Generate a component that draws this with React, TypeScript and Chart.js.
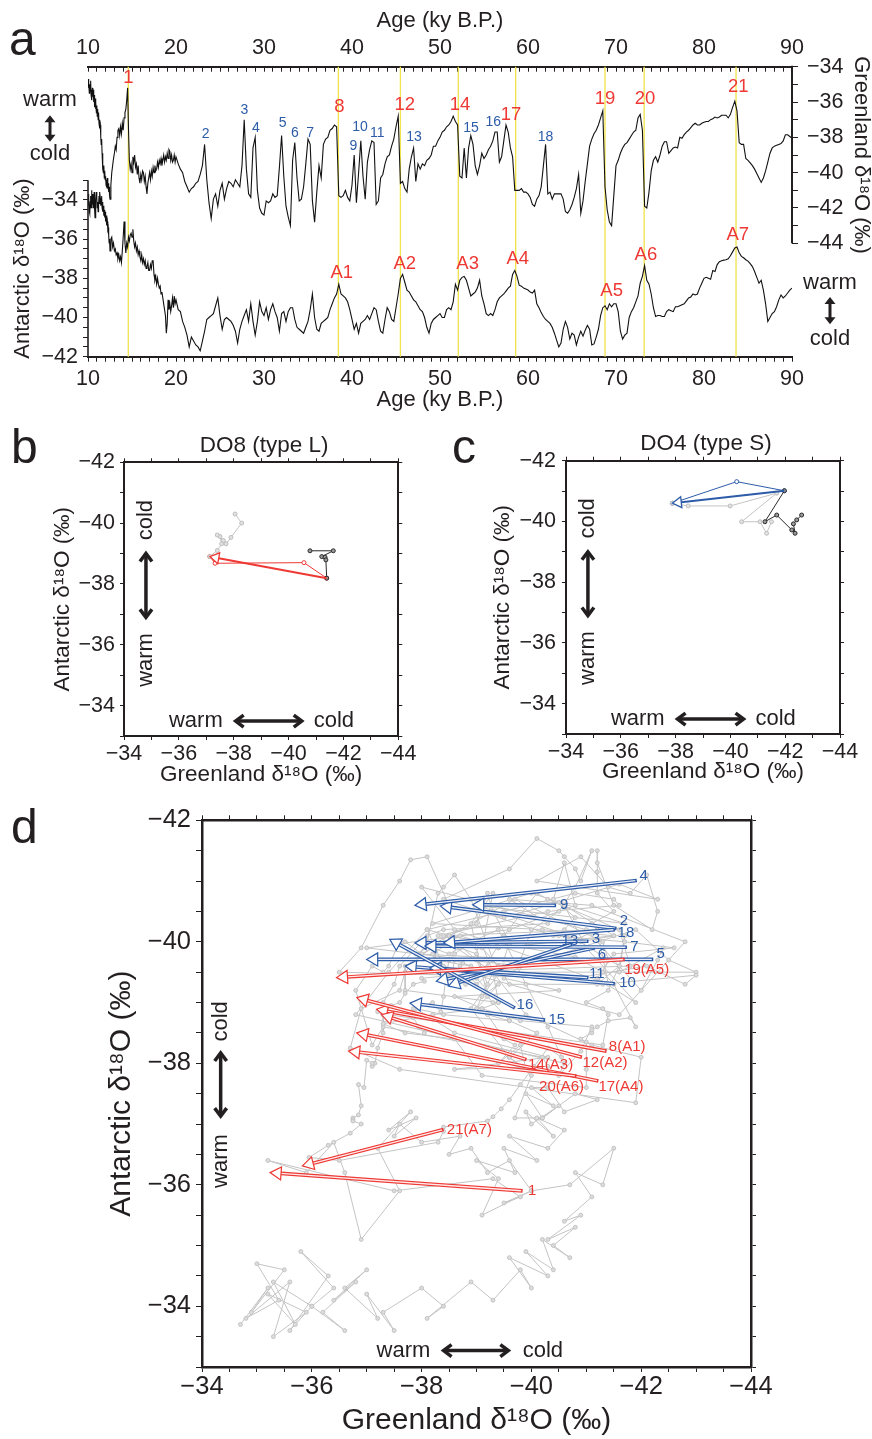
import React, { useEffect, useRef } from "react";
import { Chart, registerables } from "chart.js";

Chart.register(...registerables);

const FONT = "'Liberation Sans', Arial, Helvetica, sans-serif";
const INK = "#231f20";
const RED = "#ee3833";
const BLUE = "#2c5ba8";
const GREY = "#c4c4c4";
const YELLOW = "#f1e34a";

// ---------------- Panel a : records on a common age grid (ky B.P.) ----------------
const ages = [
  10,10.05,10.1,10.15,10.2,10.25,10.3,10.35,10.4,10.45,10.5,10.55,10.6,10.65,10.7,10.75,10.8,10.85,10.9,10.95,
  11,11.05,11.1,11.15,11.2,11.25,11.3,11.35,11.4,11.45,11.5,11.55,11.6,11.65,11.7,11.75,11.8,11.85,11.9,11.95,
  12,12.05,12.1,12.15,12.2,12.25,12.3,12.35,12.4,12.45,
  12.5,12.6,12.7,12.8,12.9,13,13.1,13.2,13.3,13.4,13.5,13.6,13.7,13.8,13.9,14,14.1,14.2,14.3,14.4,
  14.5,14.6,14.7,14.8,14.9,15,15.1,15.2,15.3,15.4,15.5,15.6,15.7,15.8,15.9,16,16.1,16.2,16.3,16.4,
  16.5,16.6,16.7,16.8,16.9,17,17.1,17.2,17.3,17.4,17.5,17.6,17.7,17.8,17.9,18,18.1,18.2,18.3,18.4,
  18.5,18.6,18.7,18.8,18.9,19,19.1,19.2,19.3,19.4,19.5,19.6,19.7,19.8,19.9,
  20,20.25,20.5,20.75,21,21.25,21.5,21.75,22,22.25,22.5,22.75,23,23.25,23.5,23.75,24,24.25,24.5,24.75,
  25,25.25,25.5,25.75,26,26.25,26.5,26.75,27,27.25,27.5,27.75,28,28.25,28.5,28.75,29,29.25,29.5,29.75,
  30,30.25,30.5,30.75,31,31.25,31.5,31.75,32,32.25,32.5,32.75,33,33.25,33.5,33.75,34,34.25,34.5,34.75,
  35,35.25,35.5,35.75,36,36.25,36.5,36.75,37,37.25,37.5,37.75,38,38.25,38.5,38.75,39,39.25,39.5,39.75,
  40,40.25,40.5,40.75,41,41.25,41.5,41.75,42,42.25,42.5,42.75,43,43.25,43.5,43.75,44,44.25,44.5,44.75,
  45,45.25,45.5,45.75,46,46.25,46.5,46.75,47,47.25,47.5,47.75,48,48.25,48.5,48.75,49,49.25,49.5,49.75,
  50,50.25,50.5,50.75,51,51.25,51.5,51.75,52,52.25,52.5,52.75,53,53.25,53.5,53.75,54,54.25,54.5,54.75,
  55,55.25,55.5,55.75,56,56.25,56.5,56.75,57,57.25,57.5,57.75,58,58.25,58.5,58.75,59,59.25,59.5,59.75,
  60,60.25,60.5,60.75,61,61.25,61.5,61.75,62,62.25,62.5,62.75,63,63.25,63.5,63.75,64,64.25,64.5,64.75,
  65,65.25,65.5,65.75,66,66.25,66.5,66.75,67,67.25,67.5,67.75,68,68.25,68.5,68.75,69,69.25,69.5,69.75,
  70,70.25,70.5,70.75,71,71.25,71.5,71.75,72,72.25,72.5,72.75,73,73.25,73.5,73.75,74,74.25,74.5,74.75,
  75,75.25,75.5,75.75,76,76.25,76.5,76.75,77,77.25,77.5,77.75,78,78.25,78.5,78.75,79,79.25,79.5,79.75,
  80,80.25,80.5,80.75,81,81.25,81.5,81.75,82,82.25,82.5,82.75,83,83.25,83.5,83.75,84,84.25,84.5,84.75,
  85,85.25,85.5,85.75,86,86.25,86.5,86.75,87,87.25,87.5,87.75,88,88.25,88.5,88.75,89,89.25,89.5,89.75,
  90,
];

const greenland = [
  -34.7,-35.2,-34.9,-35.5,-35.0,-35.4,-34.8,-35.6,-35.3,-35.9,-35.2,-35.7,-35.3,-36.0,-35.6,-36.3,-35.8,-36.4,-36.0,-36.6,
  -36.2,-36.8,-36.4,-37.0,-36.6,-37.2,-37.0,-37.5,-37.3,-38.0,-38.4,-38.1,-38.9,-39.3,-39.8,-40.0,-39.6,-40.3,-39.9,-40.4,
  -40.2,-40.7,-40.4,-40.8,-40.3,-40.9,-40.6,-41.1,-40.8,-41.3,
  -41.5,-40.7,-40.0,-39.6,-39.2,-38.9,-38.5,-38.7,-38.0,-37.6,-37.5,-37.9,-37.4,-37.8,-37.2,-37.6,-36.9,-36.6,-36.4,-35.9,
  -35.2,-37.5,-39.3,-39.8,-39.5,-40.0,-39.1,-39.4,-39.0,-39.7,-39.5,-40.1,-39.6,-40.3,-40.6,-40.1,-40.4,-39.9,-40.0,-40.5,
  -40.2,-40.8,-41.2,-40.6,-40.3,-40.0,-40.4,-39.9,-40.2,-39.7,-40.0,-39.6,-39.9,-39.8,-39.4,-39.7,-39.3,-39.5,-39.2,-39.6,
  -39.3,-39.0,-39.4,-39.1,-39.3,-38.9,-39.2,-38.7,-38.8,-39.3,-39.0,-39.4,-39.3,-39.0,-39.4,
  -39.1,-39.5,-39.8,-40.0,-40.5,-40.8,-41.1,-40.9,-40.8,-40.6,-40.5,-40.1,-39.6,-38.4,-40.4,-41.7,-42.6,-41.5,-41.2,-41.9,
  -41.0,-40.6,-41.5,-40.9,-40.5,-40.6,-40.8,-40.4,-40.6,-40.8,-39.6,-37.0,-39.8,-41.2,-41.4,-38.6,-38.0,-41.0,-42.0,-42.3,
  -42.4,-41.6,-41.7,-41.6,-41.2,-41.4,-41.3,-39.7,-37.9,-40.2,-41.9,-42.5,-43.0,-39.3,-38.3,-40.3,-41.6,-41.5,-40.8,-39.5,
  -38.1,-38.4,-41.6,-42.8,-41.1,-39.6,-40.3,-38.4,-38.1,-38.0,-37.6,-37.5,-37.3,-37.4,-41.3,-41.4,-41.3,-41.0,-41.4,-41.6,
  -40.7,-39.0,-41.7,-40.0,-38.2,-40.2,-41.5,-39.4,-38.7,-38.2,-38.3,-41.8,-41.6,-40.3,-40.1,-39.5,-39.1,-39.0,-38.5,-38.1,
  -37.4,-36.8,-40.6,-40.5,-40.9,-41.1,-39.8,-39.1,-38.6,-40.5,-39.5,-39.8,-39.5,-39.6,-39.3,-39.2,-39.0,-38.5,-38.5,-38.2,
  -38.0,-37.7,-37.6,-37.4,-37.3,-37.1,-36.8,-37.1,-37.3,-40.2,-40.3,-38.6,-40.3,-38.6,-37.9,-38.4,-39.6,-40.1,-39.6,-38.9,
  -39.2,-39.0,-38.7,-38.5,-38.2,-37.7,-37.7,-39.4,-39.1,-38.2,-37.3,-37.7,-38.6,-39.1,-41.0,-41.0,-41.0,-40.9,-41.1,-41.1,
  -41.2,-41.4,-41.8,-41.9,-41.5,-41.3,-40.8,-39.6,-38.4,-41.2,-41.1,-41.5,-41.2,-41.2,-41.2,-41.2,-41.5,-42.2,-42.3,-42.1,
  -41.8,-41.4,-40.9,-40.1,-42.3,-41.6,-40.5,-39.5,-38.5,-38.1,-37.8,-37.6,-37.3,-36.9,-36.5,-40.8,-42.1,-42.8,-43.0,-41.3,
  -39.6,-39.3,-38.9,-38.6,-38.4,-38.3,-38.1,-37.9,-37.7,-37.6,-36.9,-36.7,-37.6,-41.9,-42.0,-41.1,-39.9,-39.3,-39.1,-39.4,
  -39.0,-38.5,-38.25,-38.25,-38.9,-38.75,-38.6,-38.55,-38.6,-38.0,-38.05,-37.85,-37.7,-37.6,-37.45,-37.3,-37.2,-37.3,-37.3,-37.2,
  -37.15,-37.1,-37.1,-37.0,-36.95,-36.85,-36.9,-36.85,-36.75,-36.75,-36.75,-36.9,-36.7,-36.3,-35.95,-36.5,-38.3,-38.4,-38.4,-39.2,
  -39.3,-39.45,-39.6,-39.8,-40.05,-40.3,-40.55,-40.3,-39.9,-39.4,-38.9,-38.6,-38.5,-38.45,-38.4,-38.35,-38.2,-37.85,-37.85,-37.95,
  -38.05,
];

const antarctic = [
  -33.7,-34.3,-33.9,-34.6,-34.7,-34.1,-33.8,-34.4,-33.5,-33.9,-34.2,-33.7,-34.4,-34.0,-33.6,-34.5,-34.9,-34.3,-34.0,-33.6,
  -33.9,-34.4,-34.1,-34.6,-34.3,-33.8,-34.2,-33.6,-33.9,-34.3,-34.0,-33.8,-34.4,-34.1,-34.6,-34.3,-34.8,-34.5,-34.9,-34.6,
  -35.1,-34.8,-35.0,-35.3,-35.1,-35.5,-35.4,-35.8,-36.2,-36.0,
  -36.6,-36.0,-35.9,-36.4,-36.2,-36.6,-36.5,-36.8,-36.7,-37.0,-36.8,-37.1,-36.9,-37.2,-36.6,-35.9,-35.1,-36.2,-36.7,-36.2,
  -36.4,-35.9,-36.1,-35.8,-35.7,-35.9,-35.5,-36.1,-36.4,-36.2,-36.6,-36.4,-36.8,-36.6,-36.9,-37.1,-36.8,-37.2,-37.0,-37.3,
  -37.1,-37.5,-37.4,-37.2,-37.6,-37.6,-37.3,-37.5,-37.1,-37.1,-37.8,-38.1,-37.9,-38.3,-38.0,-38.3,-38.5,-38.4,-38.8,-38.7,
  -39.0,-39.3,-39.6,-39.9,-40.8,-40.3,-39.1,-39.6,-39.3,-39.7,-39.4,-39.0,-39.5,-38.9,-39.3,
  -39.1,-39.6,-39.7,-40.2,-40.5,-40.9,-41.5,-41.0,-41.2,-41.4,-41.5,-41.7,-41.2,-40.7,-40.1,-40.0,-39.9,-39.8,-39.4,-39.0,
  -39.9,-40.6,-40.1,-40.0,-40.1,-40.2,-40.4,-40.7,-41.3,-40.6,-40.2,-39.9,-39.6,-40.2,-39.3,-40.2,-40.9,-40.2,-39.2,-39.7,
  -39.9,-39.5,-40.1,-39.6,-39.3,-39.7,-40.0,-40.7,-39.8,-39.7,-40.2,-39.7,-39.5,-39.5,-40.1,-40.5,-40.6,-40.7,-40.8,-40.5,
  -40.2,-39.6,-38.8,-40.0,-40.6,-40.7,-40.3,-40.2,-40.1,-40.0,-39.6,-39.3,-39.0,-38.8,-38.3,-38.8,-38.9,-39.0,-39.2,-39.6,
  -40.1,-40.6,-40.3,-40.8,-40.3,-40.2,-40.1,-39.9,-40.1,-39.8,-39.5,-39.6,-40.2,-40.7,-40.8,-40.1,-39.5,-39.7,-40.1,-40.2,
  -39.5,-38.8,-38.0,-37.8,-38.2,-38.6,-38.7,-38.9,-39.1,-39.2,-39.4,-39.6,-39.7,-40.0,-40.5,-40.8,-40.3,-40.1,-40.0,-39.9,
  -39.8,-40.0,-40.0,-39.6,-39.5,-39.6,-39.2,-38.3,-38.6,-38.1,-37.95,-37.9,-38.1,-38.5,-38.9,-38.8,-38.7,-38.5,-38.1,-38.9,
  -39.3,-39.8,-39.9,-39.8,-39.9,-39.6,-39.2,-39.0,-38.9,-38.8,-38.65,-38.5,-38.4,-37.8,-37.6,-37.9,-38.35,-38.4,-38.5,-38.55,
  -38.6,-38.7,-38.75,-38.6,-39.3,-39.5,-39.75,-39.95,-40.1,-40.2,-40.3,-40.5,-40.8,-41.15,-41.5,-41.3,-40.6,-40.2,-40.5,-41.1,
  -40.8,-40.9,-41.4,-41.0,-40.7,-40.95,-40.65,-40.4,-40.6,-41.4,-41.35,-41.0,-40.6,-39.9,-39.5,-39.4,-39.6,-39.3,-39.45,-39.3,
  -39.3,-39.7,-40.7,-41.1,-40.9,-40.8,-40.0,-39.7,-39.5,-39.2,-38.9,-38.25,-37.9,-37.35,-38.1,-38.3,-38.8,-39.5,-39.95,-39.9,
  -39.9,-39.95,-39.95,-39.7,-39.6,-39.65,-39.7,-39.45,-39.45,-39.4,-39.35,-39.3,-39.15,-39.0,-38.95,-38.8,-38.85,-38.8,-38.5,-38.25,
  -38.0,-37.95,-38.0,-38.05,-37.6,-37.65,-37.3,-37.15,-37.1,-37.07,-37.05,-37.0,-36.85,-36.65,-36.45,-36.4,-36.7,-36.88,-36.95,-37.05,
  -37.12,-37.25,-37.4,-37.65,-37.95,-38.25,-38.1,-38.6,-39.3,-40.2,-40.0,-39.8,-39.7,-39.45,-39.1,-38.85,-39.0,-38.9,-38.75,-38.6,
  -38.5,
];

// tick labels
const ageTicks = [10, 20, 30, 40, 50, 60, 70, 80, 90];
const antTicks = [-42, -40, -38, -36, -34];
const grnTicks = [-44, -42, -40, -38, -36, -34];
const antAxisSpan = [-42, -33];
const grnAxisSpan = [-44, -34];
const scatterXTicks = [-44, -42, -40, -38, -36, -34];
const scatterYTicks = [-42, -40, -38, -36, -34];

// DO events (yellow lines) and labels
const eventAges = [14.58, 38.45, 45.5, 52.08, 58.6, 68.75, 73.2, 83.64];
const doNames = ["1","2","3","4","5","6","7","8","9","10","11","12","13","14","15","16","17","18","19","20","21"];
const doLabelAges = [14.6,23.37,27.76,29.09,32.12,33.52,35.23,38.56,40.15,40.9,42.88,46.0,47.05,52.27,53.52,56.06,58.07,62.0,68.75,73.3,83.9];
const doLabelGreenland = [-34.64,-37.81,-36.45,-37.49,-37.21,-37.74,-37.74,-36.3,-38.47,-37.45,-37.74,-36.17,-38.0,-36.17,-37.49,-37.12,-36.74,-38.0,-35.85,-35.85,-35.13];
const largeEvents = ["1", "8", "12", "14", "17", "19", "20", "21"];
const aNames = ["A1", "A2", "A3", "A4", "A5", "A6", "A7"];
const aLabelAges = [38.83, 46.0, 53.14, 58.83, 69.5, 73.4, 83.83];
const aLabelAntarctic = [-37.71, -37.27, -37.27, -37.03, -38.63, -36.81, -35.79];

// ---------------- Panel b : DO8 ----------------
const do8BeforeG = [-40.78, -41.63, -41.21, -41.33, -41.36, -41.39];
const do8BeforeA = [-39.09, -39.09, -38.9, -38.88, -38.79, -38.19];
const do8EventG = [-41.39, -40.56, -37.32, -37.13];
const do8EventA = [-38.19, -38.7, -38.68, -38.9];
const do8AfterG = [-37.13, -37.4, -37.56, -37.5, -37.4, -37.62, -37.72, -37.9, -38.29, -38.05];
const do8AfterA = [-38.9, -39.1, -39.32, -39.56, -39.61, -39.43, -39.32, -39.53, -40.0, -40.3];

// ---------------- Panel c : DO4 ----------------
const do4BeforeG = [-42.6, -42.42, -42.3, -42.36, -42.24, -41.69, -41.26, -41.97];
const do4BeforeA = [-40.21, -40.05, -39.92, -39.61, -39.72, -40.21, -39.99, -41.01];
const do4EventG = [-41.97, -40.23, -37.88];
const do4EventA = [-41.01, -41.31, -40.6];
const do4AfterG = [-37.88, -38.46, -39.99, -41.69, -40.41, -41.08, -41.32, -41.5];
const do4AfterA = [-40.6, -40.51, -40.51, -40.93, -39.99, -39.99, -39.61, -39.99];

// ---------------- Panel d : transitions ----------------
const arrowNames = ["1","2","3","4","5","6","7","8(A1)","9","10","11","12(A2)","13","14(A3)","15","16","17(A4)","18","19(A5)","20(A6)","21(A7)"];
const arrowStartG = [-39.84,-41.55,-41.04,-41.92,-42.22,-41.16,-41.74,-41.37,-40.45,-41.52,-41.04,-40.92,-40.74,-39.91,-40.25,-39.7,-41.22,-41.52,-41.7,-40.82,-38.4];
const arrowStartA = [-35.9,-40.22,-40.01,-41.01,-39.71,-39.9,-39.91,-38.2,-40.6,-39.31,-39.41,-38.1,-39.96,-38.06,-38.71,-38.91,-37.71,-40.2,-39.71,-37.79,-36.91];
const arrowEndG = [-35.24,-38.34,-37.88,-37.88,-37.0,-38.27,-38.06,-37.18,-38.93,-37.7,-38.15,-36.82,-38.49,-37.27,-37.79,-37.42,-36.82,-38.4,-36.45,-36.67,-35.83];
const arrowEndA = [-36.2,-40.59,-39.98,-40.6,-39.71,-39.35,-39.93,-38.89,-40.61,-39.6,-39.57,-39.08,-39.27,-38.8,-38.99,-40.04,-38.5,-39.98,-39.41,-38.2,-36.31];
const arrowLabelG = [-39.94,-41.61,-41.1,-41.97,-42.28,-41.21,-41.8,-41.41,-40.52,-41.6,-41.05,-40.93,-40.55,-39.94,-40.31,-39.73,-41.22,-41.57,-41.69,-40.14,-38.46];
const arrowLabelA = [-35.9,-40.35,-40.05,-41.08,-39.8,-39.79,-39.91,-38.27,-40.6,-39.32,-39.47,-38.0,-40.02,-37.98,-38.71,-38.96,-37.62,-40.15,-39.54,-37.62,-36.91];
const redArrows = ["1","8(A1)","12(A2)","14(A3)","17(A4)","19(A5)","20(A6)","21(A7)"];

// warm / cold hint anchors (data units)
const hintBC = { g: -34.8, coldA: -40.1, arrowA: [-39.0, -36.9], warmA: -35.5, a: -33.49, warmG: -36.62, arrowG: [-38.07, -40.48], coldG: -41.65 };
const hintD = { g: -34.34, coldA: -38.69, arrowA: [-38.17, -37.13], warmA: -36.39, a: -33.27, warmG: -37.67, arrowG: [-38.4, -39.58], coldG: -40.21 };

// ---------------- helpers ----------------
const range = (a: number, b: number, s: number) => {
  const out: number[] = [];
  for (let v = a; v <= b + 1e-9; v += s) out.push(Math.round(v * 1000) / 1000);
  return out;
};
const minus = (v: number) => (v < 0 ? "\u2212" + Math.abs(v) : String(v));
const pts = (xs: number[], ys: number[]) => xs.map((x, i) => ({ x, y: ys[i] }));

function axis(o: any) {
  const horizontal = o.position === "top" || o.position === "bottom";
  return {
    type: "linear",
    position: o.position,
    min: o.min,
    max: o.max,
    reverse: !!o.reverse,
    afterBuildTicks: (s: any) => {
      s.ticks = o.ticks.map((v: number) => ({ value: v }));
    },
    afterFit: (s: any) => {
      if (horizontal) s.height = o.size;
      else s.width = o.size;
    },
    ticks: {
      display: !!o.labels,
      autoSkip: false,
      maxRotation: 0,
      minRotation: 0,
      padding: o.pad || 0,
      color: INK,
      font: { family: FONT, size: o.font || 12 },
      callback: (v: number) => (o.labels && o.labels.some((l: number) => Math.abs(l - v) < 1e-6) ? minus(v) : ""),
    },
    grid: {
      display: true,
      drawOnChartArea: false,
      drawTicks: true,
      tickLength: o.tickLen,
      color: INK,
      tickColor: INK,
      tickWidth: 1,
      lineWidth: 1,
    },
    border: { display: o.border !== false, color: INK, width: o.borderWidth || 2 },
    title: o.title
      ? { display: true, text: o.title.text, color: INK, font: { family: FONT, size: o.title.size }, padding: o.title.padding }
      : { display: false },
  };
}

function txt(ctx: any, s: string, x: number, y: number, size: number, color: string, align = "center", rot = 0) {
  ctx.save();
  ctx.translate(x, y);
  ctx.rotate(rot);
  ctx.font = `${size}px ${FONT}`;
  ctx.fillStyle = color;
  ctx.textAlign = align;
  ctx.textBaseline = "middle";
  ctx.fillText(s, 0, 0);
  ctx.restore();
}

function seg(ctx: any, x1: number, y1: number, x2: number, y2: number) {
  ctx.beginPath();
  ctx.moveTo(x1, y1);
  ctx.lineTo(x2, y2);
  ctx.stroke();
}

// double headed hint arrow; filled = triangular heads, otherwise chevrons
function hintArrow(ctx: any, x1: number, y1: number, x2: number, y2: number, lw: number, hl: number, hw: number, filled: boolean) {
  const L = Math.hypot(x2 - x1, y2 - y1);
  const ux = (x2 - x1) / L, uy = (y2 - y1) / L, px = -uy, py = ux;
  ctx.save();
  ctx.strokeStyle = INK;
  ctx.fillStyle = INK;
  ctx.lineWidth = lw;
  ctx.lineCap = "butt";
  ctx.lineJoin = "miter";
  if (filled) {
    seg(ctx, x1 + ux * hl * 0.7, y1 + uy * hl * 0.7, x2 - ux * hl * 0.7, y2 - uy * hl * 0.7);
    for (const [tx, ty, s] of [[x1, y1, 1], [x2, y2, -1]] as any) {
      ctx.beginPath();
      ctx.moveTo(tx, ty);
      ctx.lineTo(tx + s * ux * hl + px * hw, ty + s * uy * hl + py * hw);
      ctx.lineTo(tx + s * ux * hl - px * hw, ty + s * uy * hl - py * hw);
      ctx.closePath();
      ctx.fill();
    }
  } else {
    seg(ctx, x1 + ux * 1.5, y1 + uy * 1.5, x2 - ux * 1.5, y2 - uy * 1.5);
    for (const [tx, ty, s] of [[x1, y1, 1], [x2, y2, -1]] as any) {
      ctx.beginPath();
      ctx.moveTo(tx + s * ux * hl + px * hw, ty + s * uy * hl + py * hw);
      ctx.lineTo(tx, ty);
      ctx.lineTo(tx + s * ux * hl - px * hw, ty + s * uy * hl - py * hw);
      ctx.stroke();
    }
  }
  ctx.restore();
}

// arrow with open triangular head; hollow=true gives a double-line shaft
function eventArrow(ctx: any, x1: number, y1: number, x2: number, y2: number, color: string, o: any) {
  const L = Math.hypot(x2 - x1, y2 - y1);
  if (L < 1) return;
  const ux = (x2 - x1) / L, uy = (y2 - y1) / L, px = -uy, py = ux;
  const bx = x2 - ux * o.hl, by = y2 - uy * o.hl;
  ctx.save();
  ctx.lineCap = "butt";
  ctx.strokeStyle = color;
  ctx.lineWidth = o.shaft;
  seg(ctx, x1, y1, bx, by);
  if (o.hollow) {
    ctx.strokeStyle = "rgba(255,255,255,0.9)";
    ctx.lineWidth = o.inner;
    seg(ctx, x1 + ux * 1.5, y1 + uy * 1.5, bx + ux * 0.5, by + uy * 0.5);
  }
  ctx.beginPath();
  ctx.moveTo(x2, y2);
  ctx.lineTo(bx + px * o.hw, by + py * o.hw);
  ctx.lineTo(bx - px * o.hw, by - py * o.hw);
  ctx.closePath();
  ctx.fillStyle = "#ffffff";
  ctx.fill();
  ctx.strokeStyle = color;
  ctx.lineWidth = o.headLine;
  ctx.stroke();
  ctx.restore();
}

function drawHints(ctx: any, sx: any, sy: any, h: any, size: number, lw: number) {
  const gx = sx.getPixelForValue(h.g);
  txt(ctx, "cold", gx, sy.getPixelForValue(h.coldA), size, INK, "center", -Math.PI / 2);
  hintArrow(ctx, gx, sy.getPixelForValue(h.arrowA[0]), gx, sy.getPixelForValue(h.arrowA[1]), lw, 8, 6, false);
  txt(ctx, "warm", gx, sy.getPixelForValue(h.warmA), size, INK, "center", -Math.PI / 2);
  const ay = sy.getPixelForValue(h.a);
  txt(ctx, "warm", sx.getPixelForValue(h.warmG), ay, size, INK, "center");
  hintArrow(ctx, sx.getPixelForValue(h.arrowG[0]), ay, sx.getPixelForValue(h.arrowG[1]), ay, lw, 8, 6, false);
  txt(ctx, "cold", sx.getPixelForValue(h.coldG), ay, size, INK, "center");
}

const baseOptions = {
  responsive: false,
  animation: false,
  devicePixelRatio: 1,
  events: [],
  layout: { padding: 0 },
  plugins: { legend: { display: false }, tooltip: { enabled: false }, title: { display: false } },
};

// ---------------- Panel a config ----------------
const panelAPlugin = {
  id: "panelA",
  beforeDatasetsDraw(chart: any) {
    const { ctx, chartArea: ca, scales } = chart;
    ctx.save();
    ctx.strokeStyle = YELLOW;
    ctx.lineWidth = 1.3;
    for (const a of eventAges) {
      const x = scales.x.getPixelForValue(a);
      seg(ctx, x, ca.top, x, ca.bottom);
    }
    ctx.restore();
  },
  afterDraw(chart: any) {
    const { ctx, chartArea: ca, scales } = chart;
    const x = scales.x, yA = scales.yA, yG = scales.yG;
    ctx.save();
    ctx.strokeStyle = INK;
    ctx.lineWidth = 1.6;
    seg(ctx, ca.left, yA.getPixelForValue(antAxisSpan[1]), ca.left, yA.getPixelForValue(antAxisSpan[0]) + 1);
    ctx.lineWidth = 2;
    seg(ctx, ca.right, yG.getPixelForValue(grnAxisSpan[1]) - 1, ca.right, yG.getPixelForValue(grnAxisSpan[0]));
    ctx.restore();

    doNames.forEach((n, i) => {
      const red = largeEvents.includes(n);
      txt(ctx, n, x.getPixelForValue(doLabelAges[i]), yG.getPixelForValue(doLabelGreenland[i]), red ? 18.5 : 14, red ? RED : BLUE);
    });
    aNames.forEach((n, i) => {
      txt(ctx, n, x.getPixelForValue(aLabelAges[i]), yA.getPixelForValue(aLabelAntarctic[i]), 18.5, RED);
    });

    txt(ctx, "Antarctic \u03b4\u00b9\u2078O (\u2030)", ca.left - 65, yA.getPixelForValue(-37.5), 22, INK, "center", -Math.PI / 2);
    txt(ctx, "Greenland \u03b4\u00b9\u2078O (\u2030)", ca.right + 69, yG.getPixelForValue(-39), 22, INK, "center", Math.PI / 2);

    const lx = ca.left - 38;
    txt(ctx, "warm", lx, yG.getPixelForValue(-35.9), 22, INK);
    hintArrow(ctx, lx, yG.getPixelForValue(-36.75), lx, yG.getPixelForValue(-38.25), 3, 7, 5.5, true);
    txt(ctx, "cold", lx, yG.getPixelForValue(-38.95), 22, INK);
    const rx = ca.right + 38;
    txt(ctx, "warm", rx, yA.getPixelForValue(-38.25), 22, INK);
    hintArrow(ctx, rx, yA.getPixelForValue(-38.95), rx, yA.getPixelForValue(-40.35), 3, 7, 5.5, true);
    txt(ctx, "cold", rx, yA.getPixelForValue(-41.1), 22, INK);

    txt(ctx, "a", 9, 42, 48, INK, "left");
  },
};

function configA() {
  return {
    type: "line",
    data: {
      datasets: [
        { data: pts(ages, greenland), xAxisID: "x", yAxisID: "yG", borderColor: "#111", borderWidth: 1.1, pointRadius: 0, fill: false, tension: 0 },
        { data: pts(ages, antarctic), xAxisID: "x", yAxisID: "yA", borderColor: "#111", borderWidth: 1.1, pointRadius: 0, fill: false, tension: 0 },
      ],
    },
    options: {
      ...baseOptions,
      scales: {
        x: axis({ position: "bottom", min: 10, max: 90, ticks: range(10, 90, 1), labels: ageTicks, size: 63.3, tickLen: 5, pad: 4, font: 21.5, borderWidth: 2,
          title: { text: "Age (ky B.P.)", size: 22, padding: { top: 0, bottom: 7 } } }),
        xt: axis({ position: "top", min: 10, max: 90, ticks: range(10, 90, 1), labels: ageTicks, size: 66.7, tickLen: -5, pad: 11, font: 21.5, borderWidth: 2,
          title: { text: "Age (ky B.P.)", size: 22, padding: { top: 8, bottom: 0 } } }),
        yA: axis({ position: "left", min: -42, max: -27.2, ticks: range(-42, -33, 0.5), labels: antTicks, size: 88, tickLen: 5, pad: 5, font: 21.5, border: false }),
        yG: axis({ position: "right", min: -50.42, max: -34, ticks: range(-44, -34, 1), labels: grnTicks, size: 80, tickLen: 6, pad: 9, font: 21.5, border: false }),
      },
    },
    plugins: [panelAPlugin],
  };
}

// ---------------- Panels b / c config ----------------
function configSmall(p: any) {
  const plugin = {
    id: "small" + p.letter,
    afterDatasetsDraw(chart: any) {
      const { ctx, scales } = chart;
      const sx = scales.x, sy = scales.y;
      const n = p.eventG.length - 1;
      eventArrow(ctx, sx.getPixelForValue(p.eventG[0]), sy.getPixelForValue(p.eventA[0]),
        sx.getPixelForValue(p.eventG[n]), sy.getPixelForValue(p.eventA[n]), p.color,
        { hl: 9, hw: 5.5, shaft: 2, headLine: 1.3, hollow: false });
    },
    afterDraw(chart: any) {
      const { ctx, chartArea: ca, scales } = chart;
      drawHints(ctx, scales.x, scales.y, hintBC, 22, 3.5);
      txt(ctx, p.title, (ca.left + ca.right) / 2 + 3, ca.top - 17, 22.5, INK);
      txt(ctx, p.letter, p.letterX, p.letterY, 48, INK, "left");
    },
  };
  const pointDs = (xs: number[], ys: number[], line: string, pb: string, pf: string) => ({
    data: pts(xs, ys), showLine: true, borderColor: line, borderWidth: 1, pointRadius: 2, pointBorderWidth: 1,
    pointBackgroundColor: pf, pointBorderColor: pb, tension: 0,
  });
  return {
    type: "scatter",
    data: {
      datasets: [
        pointDs(p.afterG, p.afterA, "#c4c4c4", "#bdbdbd", "#e2e2e2"),
        pointDs(p.beforeG, p.beforeA, "#2a2a2a", "#2a2a2a", "#9a9a9a"),
        pointDs(p.eventG, p.eventA, p.color, p.color, "#ffffff"),
      ],
    },
    options: {
      ...baseOptions,
      scales: {
        x: axis({ position: "bottom", min: -44, max: -34, reverse: true, ticks: range(-44, -34, 1), labels: scatterXTicks, size: p.bottomH, tickLen: 4, pad: 1, font: 21.5,
          title: { text: "Greenland \u03b4\u00b9\u2078O (\u2030)", size: 22.5, padding: { top: 0, bottom: p.xTitlePad } } }),
        xt: axis({ position: "top", min: -44, max: -34, reverse: true, ticks: range(-44, -34, 1), size: p.topH, tickLen: 4 }),
        y: axis({ position: "left", min: -42, max: -33, reverse: true, ticks: range(-42, -33, 1), labels: scatterYTicks, size: p.leftW, tickLen: 4, pad: p.yPad, font: 21.5,
          title: { text: "Antarctic \u03b4\u00b9\u2078O (\u2030)", size: 22.5, padding: { top: p.yTitlePad, bottom: 0 } } }),
        yr: axis({ position: "right", min: -42, max: -33, reverse: true, ticks: range(-42, -33, 1), size: p.rightW, tickLen: 4 }),
      },
    },
    plugins: [plugin],
  };
}

// ---------------- Panel d config ----------------
const panelDPlugin = {
  id: "panelD",
  afterDatasetsDraw(chart: any) {
    const { ctx, scales } = chart;
    const sx = scales.x, sy = scales.y;
    const order = arrowNames.map((_, i) => i).sort((a, b) => Number(redArrows.includes(arrowNames[a])) - Number(redArrows.includes(arrowNames[b])));
    for (const i of order) {
      const red = redArrows.includes(arrowNames[i]);
      eventArrow(ctx, sx.getPixelForValue(arrowStartG[i]), sy.getPixelForValue(arrowStartA[i]),
        sx.getPixelForValue(arrowEndG[i]), sy.getPixelForValue(arrowEndA[i]), red ? RED : BLUE,
        { hl: 11, hw: 6.5, shaft: 3.6, inner: 1.3, headLine: 1.2, hollow: true });
    }
    arrowNames.forEach((n, i) => {
      const red = redArrows.includes(n);
      txt(ctx, n, sx.getPixelForValue(arrowLabelG[i]), sy.getPixelForValue(arrowLabelA[i]), 15, red ? RED : BLUE, "left");
    });
  },
  afterDraw(chart: any) {
    const { ctx, scales } = chart;
    drawHints(ctx, scales.x, scales.y, hintD, 22, 3.5);
    txt(ctx, "d", 11, 30, 48, INK, "left");
  },
};

function configD() {
  return {
    type: "scatter",
    data: {
      datasets: [
        {
          data: pts(greenland, antarctic), showLine: true, borderColor: GREY, borderWidth: 1, tension: 0,
          pointRadius: 2, pointBorderWidth: 0.8, pointBackgroundColor: "#dcdcdc", pointBorderColor: "#bcbcbc",
        },
      ],
    },
    options: {
      ...baseOptions,
      scales: {
        x: axis({ position: "bottom", min: -44, max: -34, reverse: true, ticks: range(-44, -34, 0.5), labels: scatterXTicks, size: 72, tickLen: 5, pad: 0, font: 25.5, borderWidth: 2.5,
          title: { text: "Greenland \u03b4\u00b9\u2078O (\u2030)", size: 30, padding: { top: 0, bottom: 0 } } }),
        xt: axis({ position: "top", min: -44, max: -34, reverse: true, ticks: range(-44, -34, 0.5), size: 19, tickLen: 5, borderWidth: 2.5 }),
        y: axis({ position: "left", min: -42, max: -33, reverse: true, ticks: range(-42, -33, 0.5), labels: scatterYTicks, size: 202, tickLen: 6, pad: 5, font: 25.5, borderWidth: 2.5,
          title: { text: "Antarctic \u03b4\u00b9\u2078O (\u2030)", size: 30, padding: { top: 104, bottom: 0 } } }),
        yr: axis({ position: "right", min: -42, max: -33, reverse: true, ticks: range(-42, -33, 0.5), size: 121, tickLen: 5, borderWidth: 2.5 }),
      },
    },
    plugins: [panelDPlugin],
  };
}

// ---------------- React ----------------
function ChartBox(props: { left: number; top: number; width: number; height: number; config: () => any }) {
  const ref = useRef<HTMLCanvasElement | null>(null);
  useEffect(() => {
    if (!ref.current) return;
    const chart = new Chart(ref.current, props.config() as any);
    return () => chart.destroy();
  }, []);
  return (
    <canvas
      ref={ref}
      width={props.width}
      height={props.height}
      style={{ position: "absolute", left: props.left, top: props.top, width: props.width, height: props.height }}
    />
  );
}

export default function App() {
  return (
    <div style={{ position: "absolute", left: 0, top: 0, width: 872, height: 1439, background: "#ffffff", overflow: "hidden" }}>
      <ChartBox left={0} top={0} width={872} height={420} config={configA} />
      <ChartBox
        left={0} top={420} width={430} height={380}
        config={() => configSmall({
          letter: "b", letterX: 11, letterY: 30, title: "DO8 (type L)", color: RED,
          beforeG: do8BeforeG, beforeA: do8BeforeA, eventG: do8EventG, eventA: do8EventA, afterG: do8AfterG, afterA: do8AfterA,
          leftW: 124, rightW: 31.7, topH: 42.3, bottomH: 64, yPad: 5, yTitlePad: 49, xTitlePad: 12,
        })}
      />
      <ChartBox
        left={430} top={420} width={442} height={380}
        config={() => configSmall({
          letter: "c", letterX: 22, letterY: 30, title: "DO4 (type S)", color: BLUE,
          beforeG: do4BeforeG, beforeA: do4BeforeA, eventG: do4EventG, eventA: do4EventA, afterG: do4AfterG, afterA: do4AfterA,
          leftW: 136, rightW: 32, topH: 40.7, bottomH: 66, yPad: 6, yTitlePad: 59, xTitlePad: 15,
        })}
      />
      <ChartBox left={0} top={800} width={872} height={639} config={configD} />
    </div>
  );
}
